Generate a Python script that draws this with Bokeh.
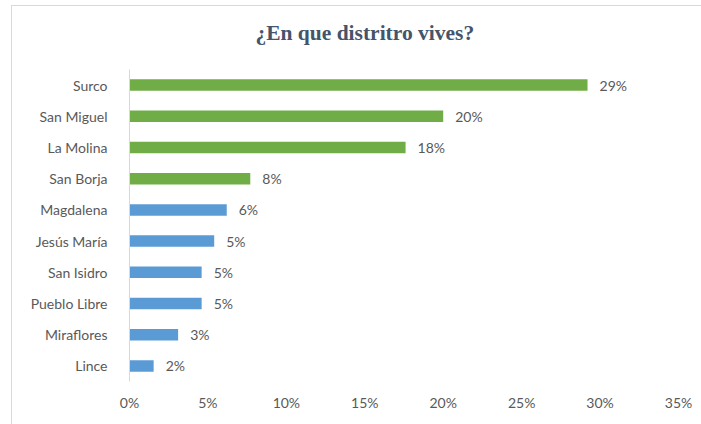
from bokeh.plotting import figure
from bokeh.models import ColumnDataSource, Range1d, FixedTicker, PrintfTickFormatter, LabelSet, Label
from bokeh.core.properties import value
from bokeh.embed import file_html
from bokeh.resources import INLINE

districts = ["Surco", "San Miguel", "La Molina", "San Borja", "Magdalena",
             "Jesús María", "San Isidro", "Pueblo Libre", "Miraflores", "Lince"]
shares = [29.2, 20.0, 17.6, 7.7, 6.2, 5.4, 4.6, 4.6, 3.1, 1.54]
tick_values = [0, 5, 10, 15, 20, 25, 30, 35]
title_text = "¿En que distritro vives?"

GREEN = "#70AD47"
BLUE = "#5B9BD5"
TXT = "#595959"
FONT = "Lato"

n = len(districts)
ypos = [n - 1 - i for i in range(n)]          # first category at top
colors = [GREEN if i < 4 else BLUE for i in range(n)]
labels = [f"{v:.0f}%" for v in shares]
src = ColumnDataSource(dict(y=ypos, v=shares, c=colors, lab=labels))

W, H = 690, 419
TOP, BOTTOM, LEFT, RIGHT = 5, 44, 117, 24
CAT_PX = 312                                   # pixels occupied by the category rows
frame_h = H - TOP - BOTTOM
y_end = -0.5 + n * frame_h / CAT_PX

p = figure(width=W, height=H, output_backend="svg", toolbar_location=None,
           y_range=Range1d(-0.5, y_end), x_range=Range1d(0, 35),
           min_border_left=LEFT, min_border_right=RIGHT, min_border_top=TOP, min_border_bottom=BOTTOM)
p.styles = {"border-left": "1px solid #D9D9D9", "border-top": "1px solid #D9D9D9",
            "margin-left": "11px", "margin-top": "5px"}

p.hbar(y="y", right="v", left=0, height=0.37, color="c", source=src, line_color=None)
p.add_layout(LabelSet(x="v", y="y", text="lab", source=src, x_offset=12,
                      text_align="left", text_baseline="middle",
                      text_font=value(FONT), text_font_size=value("14px"), text_color=TXT))

p.add_layout(Label(x=15.0, y=n - 1, y_offset=52, text=title_text,
                   text_align="center", text_baseline="middle",
                   text_font="Liberation Serif", text_font_style="bold",
                   text_font_size="21.5px", text_color="#44546A"))

p.xgrid.visible = False
p.ygrid.visible = False
p.outline_line_color = None

p.xaxis.ticker = FixedTicker(ticks=tick_values)
p.xaxis.formatter = PrintfTickFormatter(format="%d%%")
p.xaxis.axis_line_color = None
p.xaxis.major_tick_line_color = None
p.xaxis.minor_tick_line_color = None
p.xaxis.major_label_standoff = 6

p.yaxis.ticker = FixedTicker(ticks=ypos)
p.yaxis.major_label_overrides = {y: d for y, d in zip(ypos, districts)}
p.yaxis.bounds = (-0.5, n - 0.5)
p.yaxis.axis_line_color = "#D9D9D9"
p.yaxis.major_tick_line_color = None
p.yaxis.minor_tick_line_color = None
p.yaxis.major_label_standoff = 16

for ax in (p.xaxis, p.yaxis):
    ax.major_label_text_font = FONT
    ax.major_label_text_font_size = "14px"
    ax.major_label_text_color = TXT

open("out.html", "w").write(file_html(p, INLINE))
